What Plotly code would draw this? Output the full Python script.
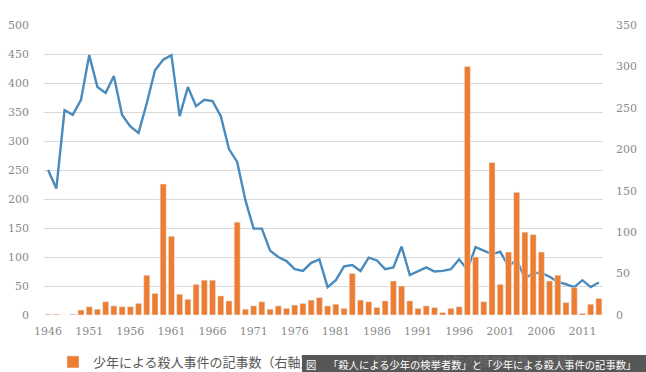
import plotly.graph_objects as go

years = list(range(1946, 2014))
articles = [1, 1, 0, 1, 6, 10, 7, 16, 11, 10,
            10, 14, 48, 26, 158, 95, 25, 19, 37, 42,
            42, 23, 17, 112, 7, 11, 16, 7, 11, 8,
            12, 14, 18, 21, 11, 13, 8, 50, 18, 16,
            9, 17, 41, 35, 17, 8, 11, 9, 3, 8,
            10, 300, 70, 16, 184, 37, 76, 148, 100, 97,
            76, 41, 48, 15, 33, 2, 13, 20]
arrests = [250, 218, 353, 345, 371, 448, 393, 383, 412, 345,
           325, 314, 365, 422, 440, 448, 343, 393, 360, 371,
           369, 343, 286, 264, 198, 149, 149, 111, 100, 93,
           79, 76, 90, 96, 48, 60, 84, 86, 76, 99,
           94, 79, 82, 118, 69, 76, 82, 75, 76, 79,
           96, 78, 117, 111, 105, 109, 84, 95, 63, 72,
           73, 66, 57, 53, 48, 60, 48, 56]
xticks = list(range(1946, 2014, 5))

bar_name = "少年による殺人事件の記事数（右軸）"
line_name = "殺人による少年の検挙者数（左軸）"
caption_head = "図"
caption_body = "「殺人による少年の検挙者数」と「少年による殺人事件の記事数」"

tickfont = dict(family="DejaVu Serif, Liberation Serif, serif", size=11, color="#8a8a8a")

W, H = 646, 372
# plot area: x 44..603, y 25..315 (px)
def px_x(p):
    return (p - 44) / 559

def px_y(p):
    return (315 - p) / 290

fig = go.Figure()
fig.add_trace(go.Bar(x=years, y=articles, name=bar_name, marker_color="#ed7d31",
                     yaxis="y2"))
fig.add_trace(go.Scatter(x=years, y=arrests, name=line_name, mode="lines",
                         line=dict(color="#4a8bbd", width=2.4), yaxis="y",
                         showlegend=False))

capfont = dict(family="Noto Sans CJK JP", size=10.3, color="white")

fig.update_layout(
    width=W, height=H,
    margin=dict(l=44, r=43, t=25, b=57, autoexpand=False),
    paper_bgcolor="white", plot_bgcolor="white",
    bargap=0.27,
    showlegend=True,
    legend=dict(orientation="h", x=53 / W, xref="container", y=1 - 362 / H, yref="container",
                yanchor="middle", xanchor="left",
                font=dict(family="Noto Sans CJK JP", size=13, color="#595959"),
                bgcolor="rgba(0,0,0,0)", itemwidth=30),
    xaxis=dict(range=[1945.5, 2013.5], tickmode="array", tickvals=xticks,
               ticktext=[str(t) for t in xticks], tickfont=tickfont,
               showgrid=False, zeroline=False, showline=False, ticks="",
               ticklabelstandoff=8, automargin=False),
    yaxis=dict(range=[0, 500], dtick=50, tickfont=tickfont, gridcolor="#d9d9d9",
               gridwidth=1, zeroline=False, showline=False, ticklabelstandoff=14,
               automargin=False),
    yaxis2=dict(range=[0, 350], dtick=50, tickfont=tickfont, overlaying="y", side="right",
                showgrid=False, zeroline=False, showline=False, ticklabelstandoff=12,
                automargin=False),
    shapes=[dict(type="rect", xref="paper", yref="paper", x0=px_x(302), x1=px_x(646),
                 y0=px_y(372), y1=px_y(355), fillcolor="#575757",
                 line=dict(width=0), layer="above")],
    annotations=[
        dict(text=line_name, xref="paper", yref="paper", x=px_x(372),
             y=px_y(360), xanchor="left", yanchor="middle", showarrow=False,
             font=dict(family="Noto Sans CJK JP", size=13, color="#6a6a6a")),
        dict(text=caption_head, xref="paper", yref="paper", x=px_x(304),
             y=px_y(364), xanchor="left", yanchor="middle", showarrow=False,
             font=capfont),
        dict(text=caption_body, xref="paper", yref="paper", x=px_x(326),
             y=px_y(364), xanchor="left", yanchor="middle", showarrow=False,
             font=capfont),
    ],
)

fig.write_html("out.html", config={"displayModeBar": False},
               post_script="document.body.style.margin='0';document.body.style.overflow='hidden';")
